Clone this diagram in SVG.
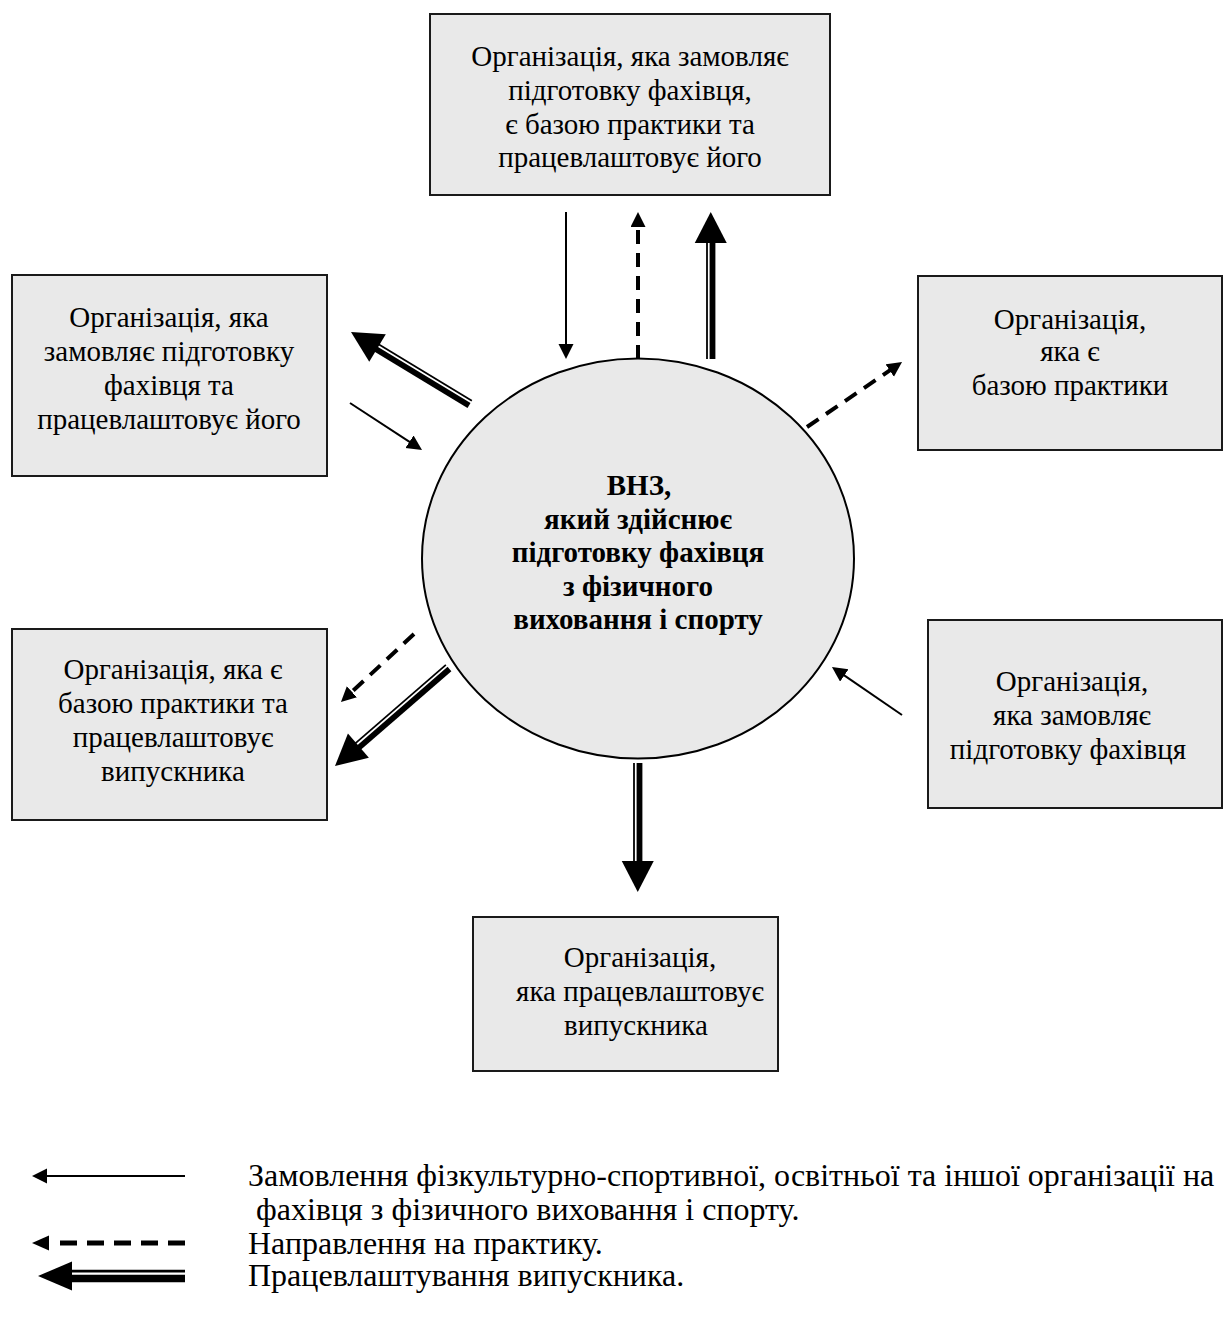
<svg xmlns="http://www.w3.org/2000/svg" width="1224" height="1321" viewBox="0 0 1224 1321">
<defs>
<style>
.box{fill:#e9e9e9;stroke:#1a1a1a;stroke-width:2}
.t{font-family:"Liberation Serif","Times New Roman",serif;font-size:29px;fill:#000;text-anchor:middle}
.tb{font-family:"Liberation Serif","Times New Roman",serif;font-size:29px;font-weight:bold;fill:#000;text-anchor:middle}
.lg{font-family:"Liberation Serif","Times New Roman",serif;font-size:32px;fill:#000}
.thin{stroke:#000;stroke-width:2;fill:none;marker-end:url(#ah)}
.dash{stroke:#000;stroke-width:4;fill:none;stroke-dasharray:14 9;marker-end:url(#ah)}
.dthin{stroke:#000;stroke-width:1.8}
.dthick{stroke:#000;stroke-width:5.8}
</style>
<marker id="ah" markerUnits="userSpaceOnUse" markerWidth="16" markerHeight="16" viewBox="0 0 16 16" refX="1" refY="7.5" orient="auto">
<path d="M0,0 L15,7.5 L0,15 Z" fill="#000"/>
</marker>
</defs>
<rect width="1224" height="1321" fill="#fff"/>

<g id="node-top">
<rect class="box" x="430" y="14" width="400" height="181"/>
<text class="t"><tspan x="630" y="66">Організація, яка замовляє</tspan><tspan x="630" y="100">підготовку фахівця,</tspan><tspan x="630" y="134">є базою практики та</tspan><tspan x="630" y="167">працевлаштовує його</tspan></text>
</g>
<g id="node-left1">
<rect class="box" x="12" y="275" width="315" height="201"/>
<text class="t"><tspan x="169" y="327">Організація, яка</tspan><tspan x="169" y="361">замовляє підготовку</tspan><tspan x="169" y="395">фахівця та</tspan><tspan x="169" y="429">працевлаштовує його</tspan></text>
</g>
<g id="node-right1">
<rect class="box" x="918" y="276" width="304" height="174"/>
<text class="t"><tspan x="1070" y="329">Організація,</tspan><tspan x="1070" y="361">яка є</tspan><tspan x="1070" y="395">базою практики</tspan></text>
</g>
<g id="node-left2">
<rect class="box" x="12" y="629" width="315" height="191"/>
<text class="t"><tspan x="173" y="679">Організація, яка є</tspan><tspan x="173" y="713">базою практики та</tspan><tspan x="173" y="747">працевлаштовує</tspan><tspan x="173" y="781">випускника</tspan></text>
</g>
<g id="node-right2">
<rect class="box" x="928" y="620" width="294" height="188"/>
<text class="t"><tspan x="1072" y="691">Організація,</tspan><tspan x="1072" y="725">яка замовляє</tspan><tspan x="1068" y="759">підготовку фахівця</tspan></text>
</g>
<g id="node-bottom">
<rect class="box" x="473" y="917" width="305" height="154"/>
<text class="t"><tspan x="640" y="967">Організація,</tspan><tspan x="640" y="1001">яка працевлаштовує</tspan><tspan x="636" y="1035">випускника</tspan></text>
</g>
<g id="node-center">
<ellipse cx="638" cy="558.5" rx="216" ry="200" fill="#e9e9e9" stroke="#000" stroke-width="2"/>
<text class="tb"><tspan x="639" y="495">ВНЗ,</tspan><tspan x="638" y="528.5">який здійснює</tspan><tspan x="638" y="562">підготовку фахівця</tspan><tspan x="638" y="595.5">з фізичного</tspan><tspan x="638" y="629">виховання і спорту</tspan></text>
</g>

<g id="connectors">
<line class="thin" x1="566" y1="212" x2="566" y2="345"/>
<line class="thin" x1="350" y1="403" x2="410.3" y2="442.3"/>
<line class="thin" x1="902" y1="715" x2="843.5" y2="674.9"/>
<line class="dash" x1="638" y1="359" x2="638" y2="226"/>
<line class="dash" x1="807" y1="427" x2="890.5" y2="369.9"/>
<line class="dash" x1="414" y1="634" x2="351.2" y2="692.5"/>

<g transform="translate(710.75,212) rotate(-90)">
<line class="dthin" x1="-147" y1="-3.75" x2="-29" y2="-3.75"/>
<line class="dthick" x1="-147" y1="1.75" x2="-29" y2="1.75"/>
<polygon points="0,0 -31,-16 -31,16" fill="#000"/>
</g>
<g transform="translate(351,332) rotate(-148.83)">
<line class="dthin" x1="-139" y1="3.75" x2="-29" y2="3.75"/>
<line class="dthick" x1="-139" y1="-1.75" x2="-29" y2="-1.75"/>
<polygon points="0,0 -31,-16 -31,16" fill="#000"/>
</g>
<g transform="translate(335,766) rotate(139.07)">
<line class="dthin" x1="-150" y1="3.75" x2="-29" y2="3.75"/>
<line class="dthick" x1="-150" y1="-1.75" x2="-29" y2="-1.75"/>
<polygon points="0,0 -31,-16 -31,16" fill="#000"/>
</g>
<g transform="translate(637.75,892) rotate(90)">
<line class="dthin" x1="-129" y1="3.75" x2="-29" y2="3.75"/>
<line class="dthick" x1="-129" y1="-1.75" x2="-29" y2="-1.75"/>
<polygon points="0,0 -31,-16 -31,16" fill="#000"/>
</g>
</g>

<g id="legend">
<line class="thin" x1="185" y1="1176" x2="46" y2="1176"/>
<line x1="185" y1="1243" x2="58" y2="1243" stroke="#000" stroke-width="5" stroke-dasharray="17 10"/>
<polygon points="32,1243 49,1235.5 49,1250.5" fill="#000"/>
<g transform="translate(38,1276) rotate(180)">
<line x1="-147" y1="4.8" x2="-32" y2="4.8" stroke="#000" stroke-width="2.7"/>
<line x1="-147" y1="-2.5" x2="-32" y2="-2.5" stroke="#000" stroke-width="7.3"/>
<polygon points="0,0 -34,-14.5 -34,14.5" fill="#000"/>
</g>
<text class="lg"><tspan x="248" y="1186">Замовлення фізкультурно-спортивної, освітньої та іншої організації на</tspan><tspan x="248" y="1220" xml:space="preserve"> фахівця з фізичного виховання і спорту.</tspan><tspan x="248" y="1254">Направлення на практику.</tspan><tspan x="248" y="1286">Працевлаштування випускника.</tspan></text>
</g>
</svg>
